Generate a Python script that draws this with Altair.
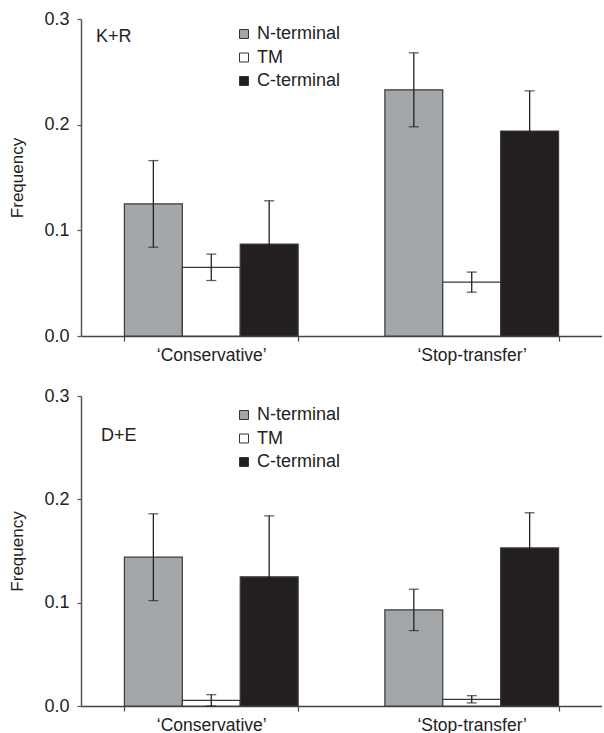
import altair as alt
import pandas as pd

categories = ["‘Conservative’", "‘Stop-transfer’"]
regions = ["N-terminal", "TM", "C-terminal"]
region_colors = ["#a4a7aa", "#ffffff", "#231f20"]

# K+R panel: mean and error per category, in region order
kr_conservative_mean = [0.125, 0.065, 0.087]
kr_conservative_err = [0.041, 0.0125, 0.041]
kr_stop_mean = [0.233, 0.051, 0.194]
kr_stop_err = [0.035, 0.0095, 0.038]

# D+E panel
de_conservative_mean = [0.144, 0.0055, 0.125]
de_conservative_err = [0.042, 0.0055, 0.059]
de_stop_mean = [0.093, 0.0065, 0.153]
de_stop_err = [0.020, 0.0035, 0.034]

y_ticks = [0.0, 0.1, 0.2, 0.3]

FONT = "Liberation Sans"


def make_df(cons_mean, cons_err, stop_mean, stop_err):
    rows = []
    for cat, means, errs in [(categories[0], cons_mean, cons_err),
                             (categories[1], stop_mean, stop_err)]:
        for r, m, e in zip(regions, means, errs):
            rows.append({"category": cat, "region": r, "mean": m,
                         "lo": max(m - e, 0.0), "hi": m + e})
    return pd.DataFrame(rows)


def panel(df, label, height, legend_y, label_x, label_y):
    base = alt.Chart(df).encode(
        x=alt.X("category:N", sort=categories,
                scale=alt.Scale(paddingInner=0.333, paddingOuter=0.1667),
                axis=alt.Axis(title=None, labelAngle=0, tickBand="extent",
                              tickSize=5, labelPadding=5, labelFontSize=17.5,
                              labelFont=FONT, labelColor="#222222",
                              domainColor="#444444", tickColor="#444444",
                              domainWidth=1.5, tickWidth=1.2)),
        xOffset=alt.XOffset("region:N", sort=regions,
                            scale=alt.Scale(paddingInner=0, paddingOuter=0)),
    )
    yaxis = alt.Axis(values=y_ticks, format=".1f", title="Frequency", grid=False,
                     tickSize=4, labelPadding=8, labelFontSize=18, labelFont=FONT,
                     labelColor="#222222", titleFont=FONT, titleFontSize=17,
                     titleFontWeight="normal", titleColor="#222222", titlePadding=17,
                     domainColor="#555555", tickColor="#555555", domainWidth=1.5,
                     tickWidth=1.2)
    bars = base.mark_bar(stroke="#3a3a3a", strokeWidth=1.2).encode(
        y=alt.Y("mean:Q", scale=alt.Scale(domain=[0, 0.3], nice=False), axis=yaxis),
        color=alt.Color("region:N", sort=regions,
                        scale=alt.Scale(domain=regions, range=region_colors),
                        legend=alt.Legend(orient="none", legendX=154, legendY=legend_y,
                                          title=None, symbolType="square",
                                          symbolSize=80, symbolStrokeColor="#333333",
                                          symbolStrokeWidth=1, labelFontSize=18,
                                          labelFont=FONT, labelColor="#222222",
                                          labelOffset=4, rowPadding=5.5, padding=0)),
    )
    rules = base.mark_rule(color="#231f20", strokeWidth=1.3).encode(
        y="lo:Q", y2="hi:Q")
    cap_hi = base.mark_tick(color="#231f20", thickness=1.3, size=10).encode(y="hi:Q")
    cap_lo = base.mark_tick(color="#231f20", thickness=1.3, size=10).encode(y="lo:Q")
    text = alt.Chart(pd.DataFrame({"t": [label]})).mark_text(
        align="left", baseline="middle", fontSize=18, font=FONT, color="#222222"
    ).encode(x=alt.value(label_x), y=alt.value(label_y), text="t:N")
    return alt.layer(bars, rules, cap_hi, cap_lo, text).properties(width=521, height=height)


top = panel(make_df(kr_conservative_mean, kr_conservative_err, kr_stop_mean, kr_stop_err),
            "K+R", 317, 6, 15, 18)
bottom = panel(make_df(de_conservative_mean, de_conservative_err, de_stop_mean, de_stop_err),
               "D+E", 310, 10, 20, 40)

chart = alt.vconcat(top, bottom, spacing=60, bounds="flush").resolve_legend(
    color="independent"
).resolve_scale(color="independent").configure_view(stroke=None).properties(
    padding={"left": 8, "top": 10, "right": 0, "bottom": 0}
)

chart.save("out.html", embed_options={"renderer": "svg", "actions": False})
